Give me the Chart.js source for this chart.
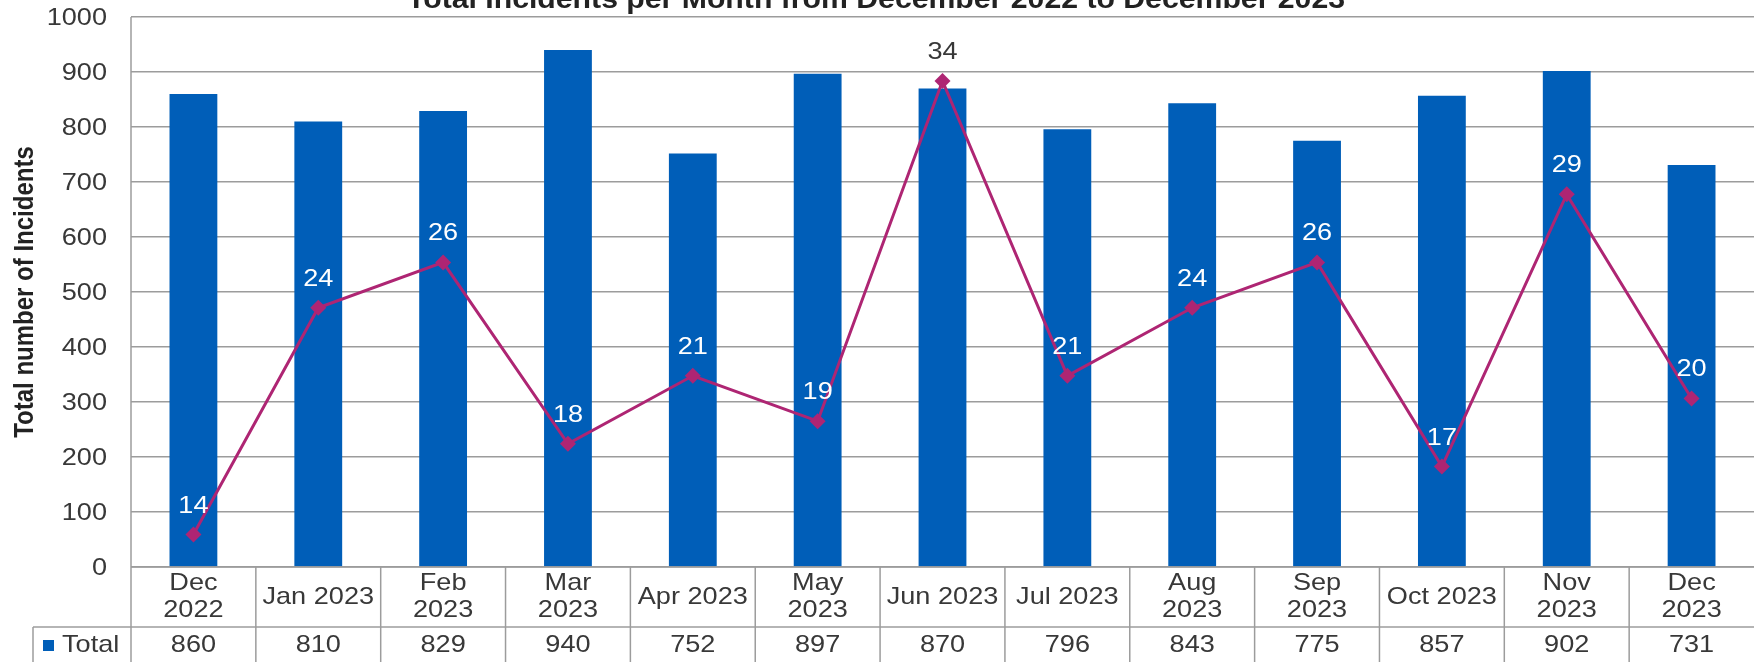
<!DOCTYPE html>
<html>
<head>
<meta charset="utf-8">
<title>Total Incidents per Month</title>
<script src="https://cdn.jsdelivr.net/npm/chart.js@4/dist/chart.umd.min.js"></script>
<style>
  html, body { margin: 0; padding: 0; background: #ffffff; }
  #wrap { width: 1762px; height: 662px; position: relative; }
</style>
</head>
<body>
<div id="wrap"><canvas id="chart" width="1762" height="662"></canvas></div>
<script>
// Months (multi-line entries wrap inside the data-table cell)
const categories = [
  ['Dec', '2022'], 'Jan 2023', ['Feb', '2023'], ['Mar', '2023'], 'Apr 2023',
  ['May', '2023'], 'Jun 2023', 'Jul 2023', ['Aug', '2023'], ['Sep', '2023'],
  'Oct 2023', ['Nov', '2023'], ['Dec', '2023']
];

// Total incidents per month (bars, left axis)
const totalIncidents = [860, 810, 829, 940, 752, 897, 870, 796, 843, 775, 857, 902, 731];

// Labelled monthly counts plotted on the hidden secondary axis (line)
const lineCounts = [14, 24, 26, 18, 21, 19, 34, 21, 24, 26, 17, 29, 20];

// Left axis tick values
const yTickValues = [0, 100, 200, 300, 400, 500, 600, 700, 800, 900, 1000];

const chartTitle = 'Total Incidents per Month from December 2022 to December 2023';
const yAxisTitle = 'Total number of Incidents';
const seriesName = 'Total';

const BAR_BLUE = '#005EB8';
const LINE_PINK = '#AE2573';
const TEXT_DARK = '#383838';
const RULE_GREY = '#9c9c9c';
const FONT = '"Liberation Sans", Arial, Helvetica, sans-serif';
const SX = 1.13; // horizontal stretch applied to all drawn text

function drawText(ctx, text, x, y, opts) {
  ctx.save();
  ctx.font = opts.font;
  ctx.fillStyle = opts.color || TEXT_DARK;
  ctx.textAlign = opts.align || 'center';
  ctx.textBaseline = opts.baseline || 'alphabetic';
  ctx.translate(x, y);
  ctx.scale(opts.sx || SX, 1);
  ctx.fillText(text, 0, 0);
  ctx.restore();
}

function hLine(ctx, x1, x2, y) {
  ctx.beginPath(); ctx.moveTo(x1, y); ctx.lineTo(x2, y); ctx.stroke();
}
function vLine(ctx, x, y1, y2) {
  ctx.beginPath(); ctx.moveTo(x, y1); ctx.lineTo(x, y2); ctx.stroke();
}

// Titles, tick labels, data labels and the data table underneath the plot
const decorations = {
  id: 'decorations',
  afterDatasetsDraw(chart) {
    const ctx = chart.ctx;
    const barMeta = chart.getDatasetMeta(0);
    const lineMeta = chart.getDatasetMeta(1);
    const labelFont = '24px ' + FONT;
    lineMeta.data.forEach((pt, i) => {
      const baseY = pt.y - 22;
      const labelTop = baseY - 17;
      const barTop = barMeta.data[i].y;
      const color = labelTop < barTop ? TEXT_DARK : '#ffffff';
      drawText(ctx, String(lineCounts[i]), pt.x, baseY, { font: labelFont, color });
    });
  },
  afterDraw(chart) {
    const ctx = chart.ctx;
    const area = chart.chartArea;
    const xs = chart.scales.x;
    const ys = chart.scales.y;
    const font = '24px ' + FONT;

    // Chart title (centred above the plot)
    ctx.save();
    ctx.font = 'bold 27px ' + FONT;
    const tw = ctx.measureText(chartTitle).width;
    ctx.restore();
    drawText(ctx, chartTitle, 876, 8, { font: 'bold 27px ' + FONT, sx: 938 / tw, color: '#222222' });

    // Y tick labels
    ys.ticks.forEach(t => {
      drawText(ctx, String(t.value), 107, ys.getPixelForValue(t.value) + 1,
        { font, align: 'right', baseline: 'middle' });
    });

    // Y axis title
    ctx.save();
    ctx.translate(33, (area.top + area.bottom) / 2);
    ctx.scale(SX, 1);
    ctx.rotate(-Math.PI / 2);
    ctx.font = 'bold 24px ' + FONT;
    ctx.fillStyle = '#222222';
    ctx.textAlign = 'center';
    ctx.textBaseline = 'alphabetic';
    ctx.fillText(yAxisTitle, 0, 0);
    ctx.restore();

    // Data table
    const top = area.bottom;
    const mid = top + 60;
    const bottom = chart.height;
    const n = categories.length;
    const half = (xs.getPixelForValue(1) - xs.getPixelForValue(0)) / 2;
    const headerLeft = 33;

    ctx.save();
    ctx.strokeStyle = RULE_GREY;
    ctx.lineWidth = 1.5;
    hLine(ctx, area.left, area.right, top);
    hLine(ctx, headerLeft, area.right, mid);
    vLine(ctx, headerLeft, mid, bottom);
    vLine(ctx, area.left, area.top, bottom);
    for (let i = 1; i < n; i++) {
      const bx = xs.getPixelForValue(i) - half;
      vLine(ctx, bx, top, bottom);
    }
    ctx.restore();

    categories.forEach((cat, i) => {
      const cx = xs.getPixelForValue(i);
      const lines = Array.isArray(cat) ? cat : [cat];
      if (lines.length === 1) {
        drawText(ctx, lines[0], cx, top + 37, { font });
      } else {
        drawText(ctx, lines[0], cx, top + 23, { font });
        drawText(ctx, lines[1], cx, top + 50, { font });
      }
      drawText(ctx, String(totalIncidents[i]), cx, mid + 25, { font });
    });

    // Series key in the row header
    ctx.save();
    ctx.fillStyle = BAR_BLUE;
    ctx.fillRect(43, mid + 13, 11, 11);
    ctx.restore();
    drawText(ctx, seriesName, 62, mid + 25, { font, align: 'left' });
  }
};

new Chart(document.getElementById('chart'), {
  data: {
    labels: categories,
    datasets: [
      {
        type: 'bar',
        label: seriesName,
        data: totalIncidents,
        backgroundColor: BAR_BLUE,
        borderWidth: 0,
        categoryPercentage: 1.0,
        barPercentage: 0.383,
        yAxisID: 'y',
        order: 2
      },
      {
        type: 'line',
        label: 'Count',
        data: lineCounts,
        borderColor: LINE_PINK,
        backgroundColor: LINE_PINK,
        borderWidth: 3,
        tension: 0,
        pointStyle: 'rectRot',
        pointRadius: 8,
        pointBorderWidth: 0,
        pointBackgroundColor: LINE_PINK,
        yAxisID: 'y2',
        order: 1
      }
    ]
  },
  options: {
    responsive: false,
    animation: false,
    devicePixelRatio: 1,
    layout: { padding: { left: 131, right: 4, top: 17, bottom: 95 } },
    plugins: {
      legend: { display: false },
      title: { display: false },
      tooltip: { enabled: false }
    },
    scales: {
      x: {
        type: 'category',
        display: false,
        offset: true,
        grid: { display: false }
      },
      y: {
        type: 'linear',
        position: 'left',
        min: 0,
        max: 1000,
        afterBuildTicks: (s) => { s.ticks = yTickValues.map(v => ({ value: v })); },
        afterFit: (s) => { s.width = 0; },
        ticks: { display: false },
        grid: { color: RULE_GREY, lineWidth: 1.5, drawTicks: false },
        border: { display: false }
      },
      y2: {
        type: 'linear',
        display: false,
        min: 12.57,
        max: 36.82
      }
    }
  },
  plugins: [decorations]
});
</script>
</body>
</html>
